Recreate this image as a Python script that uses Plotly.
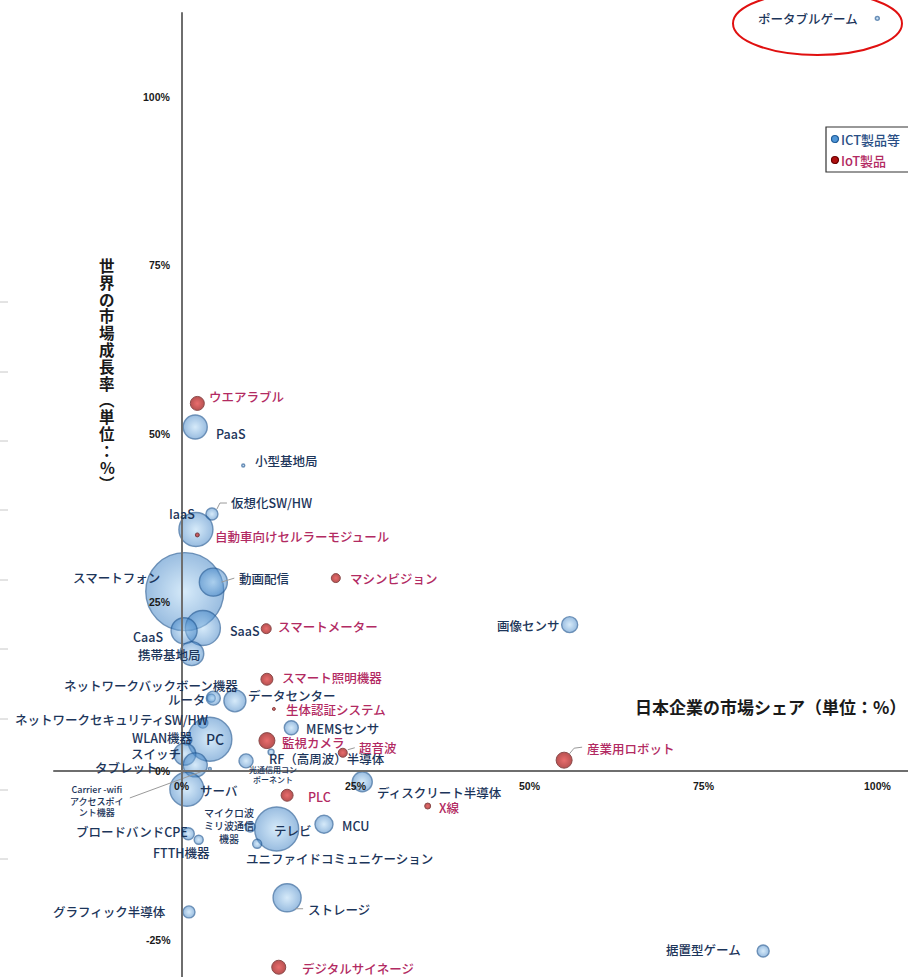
import plotly.graph_objects as go

# ---------------- data ----------------
# ICT products: Japanese companies' market share (%), world market growth rate (%), bubble size
ict_names = ["ポータブルゲーム", "PaaS", "小型基地局", "仮想化SW/HW", "IaaS", "スマートフォン", "動画配信",
             "SaaS", "CaaS", "携帯基地局", "ネットワークバックボーン機器", "ルータ", "データセンター",
             "ネットワークセキュリティSW/HW", "PC", "WLAN機器", "スイッチ", "タブレット",
             "Carrier -wifi アクセスポイント機器", "サーバ", "光通信用コンポーネント", "RF（高周波）半導体",
             "MEMSセンサ", "ディスクリート半導体", "マイクロ波ミリ波通信機器", "テレビ", "MCU",
             "ブロードバンドCPE", "FTTH機器", "ユニファイドコミュニケーション", "ストレージ",
             "グラフィック半導体", "画像センサ", "据置型ゲーム"]
ict_share = [99.9, 1.9, 8.8, 4.3, 2.0, 0.4, 4.5,
             3.0, 0.3, 1.4, 4.2, 4.5, 7.6,
             3.0, 4.0, 0.7, 0.4, 1.9,
             4.0, 0.7, 9.2, 12.8,
             15.7, 25.9, 9.8, 13.6, 20.4,
             0.9, 2.4, 10.8, 15.1,
             1.0, 55.7, 83.5]
ict_growth = [111.6, 51.0, 45.3, 38.1, 35.8, 26.6, 28.0,
              21.2, 20.8, 17.4, 10.8, 10.8, 10.4,
              7.1, 4.7, 4.6, 2.5, 0.9,
              0.3, -2.7, 1.5, 2.8,
              6.4, -1.6, -8.3, -8.6, -7.9,
              -9.3, -10.2, -10.8, -18.8,
              -20.9, 21.7, -26.7]
ict_size = [4, 24, 3, 12, 34, 78, 28,
            35, 26, 24, 8, 14, 22,
            10, 44, 10, 22, 24,
            3, 34, 14, 6,
            14, 20, 10, 44, 18,
            12, 9, 9, 28,
            12, 16, 12]

# IoT products
iot_names = ["ウエアラブル", "自動車向けセルラーモジュール", "マシンビジョン", "スマートメーター",
             "スマート照明機器", "生体認証システム", "監視カメラ", "超音波", "産業用ロボット",
             "PLC", "X線", "デジタルサイネージ"]
iot_share = [2.2, 2.2, 22.1, 12.1, 12.2, 13.2, 12.2, 23.1, 54.9, 15.1, 35.3, 13.9]
iot_growth = [54.5, 35.0, 28.6, 21.1, 13.6, 9.2, 4.5, 2.7, 1.6, -3.6, -5.2, -29.1]
iot_size = [14, 4, 9, 10, 12, 3, 16, 9, 16, 12, 6, 14]

x_ticks = [0, 25, 50, 75, 100]
x_tick_labels = ["0%", "25%", "50%", "75%", "100%"]
y_ticks = [-25, 0, 25, 50, 75, 100]
y_tick_labels = ["-25%", "0%", "25%", "50%", "75%", "100%"]

x_title = "日本企業の市場シェア（単位：%）"
y_title = "世界の市場成長率︵単位：%︶"
legend_labels = ["ICT製品等", "IoT製品"]

# ---------------- styling / label layout ----------------
FONT = "Noto Sans CJK JP"
BLUE_TXT = "#1c355a"
RED_TXT = "#b22a62"
LABEL_SIZE = 12.5

display_text = {
    "Carrier -wifi アクセスポイント機器": "Carrier -wifi<br>アクセスポイ<br>ント機器",
    "光通信用コンポーネント": "光通信用コン<br>ポーネント",
    "マイクロ波ミリ波通信機器": "マイクロ波<br>ミリ波通信<br>機器",
}
small_font = {
    "Carrier -wifi アクセスポイント機器": 9,
    "光通信用コンポーネント": 8,
    "マイクロ波ミリ波通信機器": 10,
    "PC": 14,
}
# label offsets in screen pixels from the point: (dx, dy(down), xanchor)
label_pos = {
    "ポータブルゲーム": (-17, 0, "right"), "PaaS": (19, 6, "left"), "小型基地局": (10, -5, "left"),
    "仮想化SW/HW": (17, -12, "left"), "IaaS": (1, -16, "right"), "スマートフォン": (-23, -14, "right"),
    "動画配信": (24, -4, "left"), "SaaS": (25, 2, "left"), "CaaS": (-19, 6, "right"),
    "携帯基地局": (11, 1, "right"), "ネットワークバックボーン機器": (29, -13, "right"),
    "ルータ": (-5, 1, "right"), "データセンター": (11, -5, "left"),
    "ネットワークセキュリティSW/HW": (7, -4, "right"), "PC": (5, 0, "center"),
    "WLAN機器": (8, -2, "right"), "スイッチ": (-2, -1, "right"), "タブレット": (-35, 3, "right"),
    "Carrier -wifi アクセスポイント機器": (-113, 32, "center"), "サーバ": (11, 1, "left"),
    "光通信用コンポーネント": (27, 14, "center"), "RF（高周波）半導体": (-4, 6, "left"),
    "MEMSセンサ": (13, 1, "left"), "ディスクリート半導体": (13, 11, "left"),
    "マイクロ波ミリ波通信機器": (-21, -1, "center"), "テレビ": (-5, 2, "left"), "MCU": (16, 1, "left"),
    "ブロードバンドCPE": (2, -2, "right"), "FTTH機器": (-17, 13, "center"),
    "ユニファイドコミュニケーション": (-13, 15, "left"), "ストレージ": (19, 12, "left"),
    "グラフィック半導体": (-21, 0, "right"), "画像センサ": (-8, 1, "right"), "据置型ゲーム": (-20, -2, "right"),
    "ウエアラブル": (10, -7, "left"), "自動車向けセルラーモジュール": (16, 2, "left"),
    "マシンビジョン": (12, 0, "left"), "スマートメーター": (10, -2, "left"),
    "スマート照明機器": (13, -2, "left"), "生体認証システム": (10, 1, "left"),
    "監視カメラ": (13, 2, "left"), "超音波": (14, -5, "left"), "産業用ロボット": (21, -12, "left"),
    "PLC": (19, 1, "left"), "X線": (9, 1, "left"), "デジタルサイネージ": (21, 1, "left"),
}
# leader-line segments in screen pixels from the point
leaders = {
    "仮想化SW/HW": [(5, -5, 8, -11), (8, -11, 15, -11)],
    "動画配信": [(8, 0, 21, -4)],
    "超音波": [(5, -3, 12, -5)],
    "産業用ロボット": [(5, -6, 10, -12), (10, -12, 18, -13)],
    "Carrier -wifi アクセスポイント機器": [(-80, 29, -4, 1)],
    "ストレージ": [(8, 11, 16, 11)],
}

W, H = 908, 977
X_RANGE = [-26.15, 104.31]
Y_RANGE = [-30.55, 114.32]

fig = go.Figure()
fig.add_trace(go.Scatter(
    x=ict_share, y=ict_growth, mode="markers", name=legend_labels[0], text=ict_names,
    marker=dict(size=ict_size, sizemode="diameter", sizeref=1,
                color="rgba(55,125,195,0.72)",
                gradient=dict(type="radial", color="rgba(175,215,245,0.72)"),
                line=dict(color="rgba(30,85,145,0.9)", width=1.4)),
    showlegend=False, hoverinfo="text"))
fig.add_trace(go.Scatter(
    x=iot_share, y=iot_growth, mode="markers", name=legend_labels[1], text=iot_names,
    marker=dict(size=iot_size, sizemode="diameter", sizeref=1,
                color="#9a0808",
                gradient=dict(type="radial", color="#e03030"),
                line=dict(color="#5a0000", width=1)),
    showlegend=False, hoverinfo="text"))

annotations = []
shapes = []


def add_labels(names, xs, ys, color):
    for n, xv, yv in zip(names, xs, ys):
        dx, dy, anc = label_pos[n]
        annotations.append(dict(
            x=xv, y=yv, xref="x", yref="y", text=display_text.get(n, n), showarrow=False,
            xanchor=anc, yanchor="middle", xshift=dx, yshift=-dy,
            font=dict(family=FONT, size=small_font.get(n, LABEL_SIZE), color=color, weight=500)))
        for (a, b, c, d) in leaders.get(n, []):
            shapes.append(dict(type="line", xref="x", yref="y",
                               xsizemode="pixel", ysizemode="pixel",
                               xanchor=xv, yanchor=yv, x0=a, x1=c, y0=-b, y1=-d,
                               line=dict(color="#9a9a9a", width=1)))


add_labels(ict_names, ict_share, ict_growth, BLUE_TXT)
add_labels(iot_names, iot_share, iot_growth, RED_TXT)

# tick labels placed along the crossing axes
TICK_FONT = dict(family="Liberation Sans", size=10.5, color="#1a1a1a", weight="bold")
for v, t in zip(x_ticks, x_tick_labels):
    annotations.append(dict(x=v, y=0, xref="x", yref="y", text=t, showarrow=False,
                            xanchor="center", yanchor="middle", yshift=-15, font=TICK_FONT))
for v, t in zip(y_ticks, y_tick_labels):
    annotations.append(dict(x=0, y=v, xref="x", yref="y", text=t, showarrow=False,
                            xanchor="right", yanchor="middle", xshift=-9, font=TICK_FONT))

# axis titles
annotations.append(dict(x=1.0, y=1 - 706 / H, xref="paper", yref="paper", text=x_title,
                        showarrow=False, xanchor="right", yanchor="middle",
                        font=dict(family=FONT, size=17, color="#1a1a1a", weight="bold")))
for i, ch in enumerate(y_title):
    annotations.append(dict(x=107 / W, y=1 - (265 + i * 16.8) / H, xref="paper", yref="paper",
                            text=ch, showarrow=False, xanchor="center", yanchor="middle",
                            font=dict(family=FONT, size=15.5, color="#1a1a1a", weight="bold")))

# axis lines crossing at the origin
shapes.append(dict(type="line", xref="x", yref="y", x0=-18.5, x1=X_RANGE[1], y0=0, y1=0,
                   line=dict(color="#6e6e6e", width=2)))
shapes.append(dict(type="line", xref="x", yref="y", x0=0, x1=0, y0=Y_RANGE[0], y1=112.5,
                   line=dict(color="#6e6e6e", width=2)))

# little grey marks on the left edge of the original picture
for py in [302, 372, 441, 510, 580, 649, 719, 790, 859]:
    shapes.append(dict(type="line", xref="paper", yref="paper", x0=0, x1=8 / W,
                       y0=1 - py / H, y1=1 - py / H, line=dict(color="#c8c8c8", width=1)))

# red ellipse highlighting the portable game point
shapes.append(dict(type="circle", xref="paper", yref="paper",
                   x0=733 / W, x1=902 / W, y0=1 - 55 / H, y1=1 + 8 / H,
                   line=dict(color="#e01010", width=2)))

# legend box
shapes.append(dict(type="rect", xref="paper", yref="paper", x0=826 / W, x1=915 / W,
                   y0=1 - 172 / H, y1=1 - 127 / H, line=dict(color="#333", width=1.2),
                   fillcolor="white"))
for i, (lab, mcol, lcol, tcol) in enumerate([
        (legend_labels[0], "rgba(80,150,215,1)", "#1f5c99", "#2a4f85"),
        (legend_labels[1], "#b01010", "#6a0000", RED_TXT)]):
    py = 139 + i * 21
    shapes.append(dict(type="circle", xref="paper", yref="paper", xsizemode="pixel",
                       ysizemode="pixel", xanchor=835 / W, yanchor=1 - py / H,
                       x0=-3.5, x1=3.5, y0=-3.5, y1=3.5, fillcolor=mcol,
                       line=dict(color=lcol, width=1.2)))
    annotations.append(dict(x=839 / W, y=1 - py / H, xref="paper", yref="paper", text=lab,
                            showarrow=False, xanchor="left", yanchor="middle",
                            font=dict(family=FONT, size=13, color=tcol, weight=500)))

fig.update_layout(
    width=W, height=H, margin=dict(l=0, r=0, t=0, b=0),
    paper_bgcolor="white", plot_bgcolor="white",
    xaxis=dict(range=X_RANGE, visible=False, fixedrange=True),
    yaxis=dict(range=Y_RANGE, visible=False, fixedrange=True),
    annotations=annotations, shapes=shapes, showlegend=False,
    font=dict(family=FONT),
)

fig.write_html("out.html")
